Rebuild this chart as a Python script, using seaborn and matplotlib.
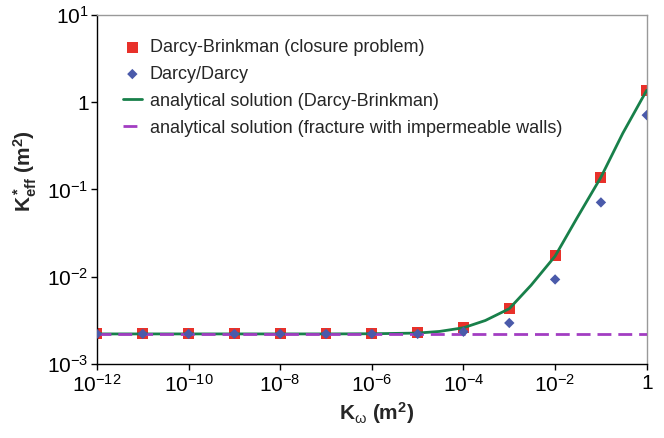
import numpy as np
import pandas as pd
import matplotlib
matplotlib.use("Agg")
import matplotlib.pyplot as plt
import seaborn as sns

# data
k_omega = [1e-12, 1e-11, 1e-10, 1e-9, 1e-8, 1e-7, 1e-6, 1e-5, 1e-4, 1e-3, 1e-2, 1e-1, 1.0]
k_brinkman = [2.21e-3, 2.21e-3, 2.21e-3, 2.21e-3, 2.21e-3, 2.21e-3, 2.22e-3, 2.32e-3,
              2.64e-3, 4.3e-3, 0.0174, 0.137, 1.37]
k_darcy = [2.21e-3, 2.21e-3, 2.21e-3, 2.21e-3, 2.21e-3, 2.21e-3, 2.21e-3, 2.21e-3,
           2.34e-3, 2.95e-3, 0.0093, 0.071, 0.71]

curve_x = [1e-12, 1e-7, 1e-6, 1e-5, 3e-5, 1e-4, 3e-4, 1e-3, 3e-3, 1e-2, 3e-2, 1e-1, 3e-1, 1.0]
curve_y = [2.21e-3, 2.21e-3, 2.22e-3, 2.26e-3, 2.36e-3, 2.6e-3, 3.15e-3, 4.3e-3, 8.0e-3,
           0.0172, 0.047, 0.138, 0.44, 1.37]

wall_x = [1e-12, 1.0]
wall_y = [2.21e-3, 2.21e-3]

xticks = [1e-12, 1e-10, 1e-8, 1e-6, 1e-4, 1e-2, 1.0]
xlabels = ["$10^{-12}$", "$10^{-10}$", "$10^{-8}$", "$10^{-6}$", "$10^{-4}$", "$10^{-2}$", "1"]
yticks = [1e-3, 1e-2, 1e-1, 1.0, 10.0]
ylabels = ["$10^{-3}$", "$10^{-2}$", "$10^{-1}$", "1", "$10^{1}$"]

sns.set_style("white")
plt.rcParams['font.family'] = ['Liberation Sans', 'DejaVu Sans']
plt.rcParams['mathtext.fontset'] = 'custom'
plt.rcParams['mathtext.rm'] = 'Liberation Sans'
plt.rcParams['mathtext.it'] = 'Liberation Sans:italic'
plt.rcParams['mathtext.bf'] = 'Liberation Sans:bold'

df_pts = pd.DataFrame({"k": k_omega, "brinkman": k_brinkman, "darcy": k_darcy})
df_curve = pd.DataFrame({"k": curve_x, "keff": curve_y})
df_wall = pd.DataFrame({"k": wall_x, "keff": wall_y})

fig, ax = plt.subplots(figsize=(6.64, 4.38), dpi=100)
fig.subplots_adjust(left=0.146, right=0.974, bottom=0.169, top=0.966)

sns.scatterplot(data=df_pts, x="k", y="brinkman", marker="s", s=62, color="#E8312A",
                edgecolor="none", ax=ax, zorder=2, label="Darcy-Brinkman (closure problem)")
sns.scatterplot(data=df_pts, x="k", y="darcy", marker="D", s=28, color="#4A5AAA",
                edgecolor="none", ax=ax, zorder=5, label="Darcy/Darcy")
sns.lineplot(data=df_curve, x="k", y="keff", color="#18804A", linewidth=2.0, ax=ax,
             zorder=3, label="analytical solution (Darcy-Brinkman)")
sns.lineplot(data=df_wall, x="k", y="keff", color="#A23DC2", linewidth=2.0, ax=ax,
             zorder=4, dashes=False, label="analytical solution (fracture with impermeable walls)")
ax.lines[-1].set_linestyle((0, (5, 2.5)))

ax.set_xscale("log")
ax.set_yscale("log")
ax.set_xlim(1e-12, 1.0)
ax.set_ylim(1e-3, 10.0)
ax.set_xticks(xticks)
ax.set_xticklabels(xlabels)
ax.set_yticks(yticks)
ax.set_yticklabels(ylabels)
ax.minorticks_off()
ax.tick_params(axis="both", direction="out", length=4, width=1, labelsize=15,
               bottom=True, left=True, colors="black")
ax.tick_params(axis="y", pad=2)
ax.tick_params(axis="x", pad=3)

for side in ["top", "right"]:
    ax.spines[side].set_color("#999999")
    ax.spines[side].set_linewidth(1)
for side in ["left", "bottom"]:
    ax.spines[side].set_color("black")
    ax.spines[side].set_linewidth(1)

ax.set_xlabel(r"$\mathbf{K}_{\mathrm{\omega}}$ (m$^\mathbf{2}$)", fontsize=15, fontweight="bold")
ax.set_ylabel(r"$\mathbf{K^*_{eff}}$ (m$^\mathbf{2}$)", fontsize=15, fontweight="bold")
ax.xaxis.set_label_coords(0.509, -0.103)
ax.yaxis.set_label_coords(-0.105, 0.553)

ax.legend(loc="upper left", frameon=False, fontsize=13, handlelength=1.05,
          handletextpad=0.45, labelspacing=0.55, bbox_to_anchor=(0.034, 0.952),
          borderaxespad=0.0)

plt.savefig("out.png", dpi=100)
